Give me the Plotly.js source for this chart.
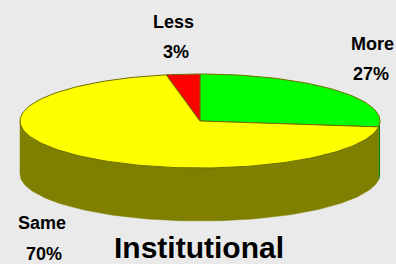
<!DOCTYPE html>
<html><head><meta charset="utf-8">
<script src="https://cdn.plot.ly/plotly-3.0.1.min.js"></script>
<style>html,body{margin:0;padding:0;background:#EAEAEA;}</style>
</head><body>
<div id="chart" style="width:396px;height:264px;"></div>
<script>
// Data (clockwise from 12 o'clock)
const categories = ["More", "Same", "Less"];
const values = [27, 70, 3];
const percentLabels = ["27%", "70%", "3%"];
const topColors = ["#00FF00", "#FFFF00", "#FF0000"];
const sideColors = ["#008000", "#808000", "#800000"];

// Geometry (pixels in a 396x264 frame)
const cx = 200, cy = 121, rx = 180, ry = 47, depth = 53;
const edge = "#6E6E00";

const total = values.reduce((a, b) => a + b, 0);
const rad = d => d * Math.PI / 180;
function pt(th, dy) { return [cx + rx * Math.cos(rad(th)), cy - ry * Math.sin(rad(th)) + (dy || 0)]; }
function arc(a, b, dy) {
  const n = Math.max(2, Math.ceil(Math.abs(b - a) / 1.5));
  const xs = [], ys = [];
  for (let i = 0; i <= n; i++) { const p = pt(a + (b - a) * i / n, dy); xs.push(p[0]); ys.push(p[1]); }
  return [xs, ys];
}

let start = 90;
const slices = values.map((v, i) => {
  const end = start - v / total * 360;
  const s = { a: start, b: end, i };
  start = end;
  return s;
});

const sideTraces = [], topTraces = [];
slices.forEach(s => {
  const fronts = [[-180, 0], [180, 360], [-540, -360]];
  fronts.forEach(f => {
    const hi = Math.min(s.a, f[1]), lo = Math.max(s.b, f[0]);
    if (hi > lo) {
      const t = arc(hi, lo, 0), bt = arc(lo, hi, depth);
      sideTraces.push({
        type: "scatter", mode: "lines", x: t[0].concat(bt[0]), y: t[1].concat(bt[1]),
        fill: "toself", fillcolor: sideColors[s.i], line: { color: sideColors[s.i], width: 0.5 },
        hoverinfo: "skip", showlegend: false
      });
    }
  });
  const t = arc(s.a, s.b, 0);
  topTraces.push({
    type: "scatter", mode: "lines", name: categories[s.i],
    x: [cx].concat(t[0], [cx]), y: [cy].concat(t[1], [cy]),
    fill: "toself", fillcolor: topColors[s.i], line: { color: edge, width: 1 },
    hoverinfo: "name", showlegend: false
  });
});

// label placement: [name x, name y, pct x, pct y]
const labelPos = { More: [372, 44, 371, 74], Same: [42, 223, 44, 254], Less: [173, 22, 176, 52] };
const font = { family: "Liberation Sans, Arial, sans-serif", size: 18, color: "#000" };
const annotations = [];
categories.forEach((c, i) => {
  const p = labelPos[c];
  annotations.push({ x: p[0], y: p[1], xref: "x", yref: "y", showarrow: false, text: "<b>" + c + "</b>", font });
  annotations.push({ x: p[2], y: p[3], xref: "x", yref: "y", showarrow: false, text: "<b>" + percentLabels[i] + "</b>", font });
});
annotations.push({
  x: 199, y: 247, xref: "x", yref: "y", showarrow: false, text: "<b>Institutional</b>",
  font: { family: "Liberation Sans, Arial, sans-serif", size: 30, color: "#000" }
});

Plotly.newPlot("chart", sideTraces.concat(topTraces), {
  width: 396, height: 264,
  margin: { l: 0, r: 0, t: 0, b: 0 },
  paper_bgcolor: "#EAEAEA", plot_bgcolor: "#EAEAEA",
  xaxis: { range: [0, 396], visible: false, fixedrange: true },
  yaxis: { range: [264, 0], visible: false, fixedrange: true },
  annotations: annotations,
  showlegend: false
}, { staticPlot: true });
</script>
</body></html>
